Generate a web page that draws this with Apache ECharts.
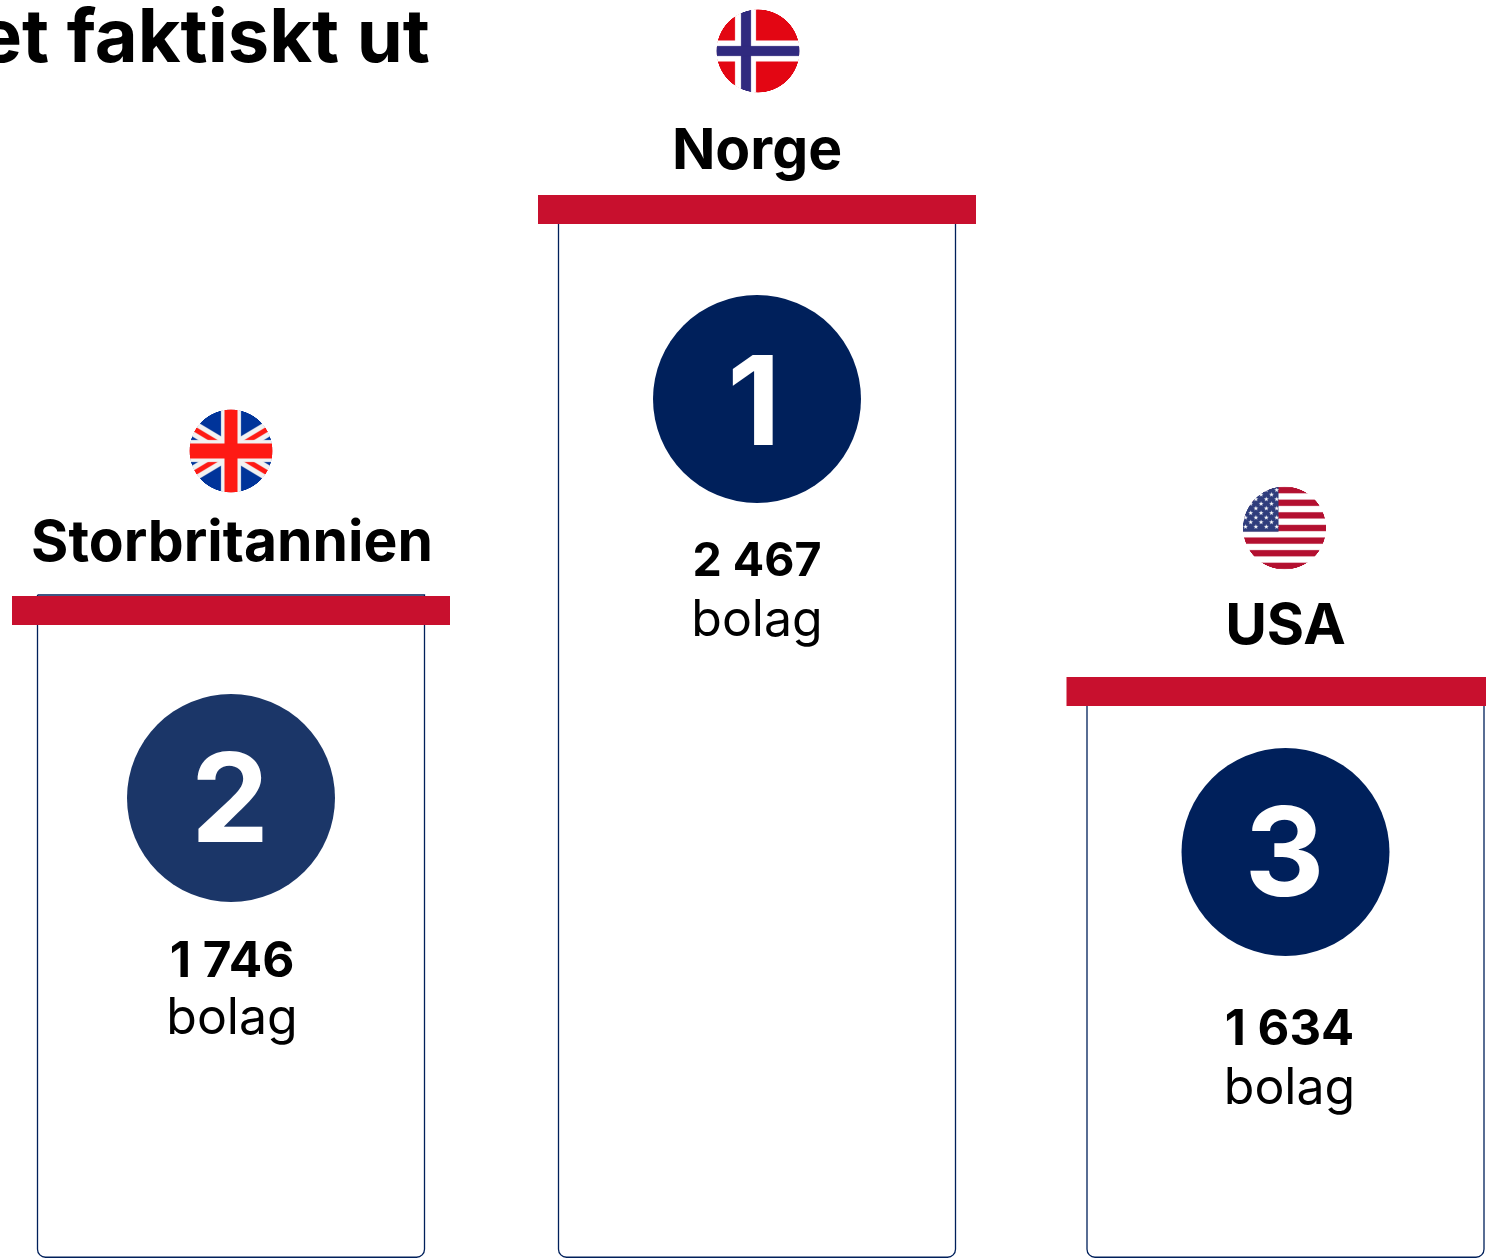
<!DOCTYPE html>
<html><head><meta charset="utf-8">
<style>html,body{margin:0;padding:0;background:#fff;overflow:hidden}#c{width:1486px;height:1258px}</style>
<script src="https://cdn.jsdelivr.net/npm/echarts@6/dist/echarts.min.js"></script>
</head><body><div id="c"></div>
<script>
// ---- data ----
const countries = ['Storbritannien', 'Norge', 'USA'];
const ranks = ['2', '1', '3'];
const companyCounts = ['1 746', '2 467', '1 634'];
const unitLabel = 'bolag';
const podiumHeights = [662, 1063, 581];
const titleText = 'et faktiskt ut';

// ---- layout and style (pixels relative to the top of each podium) ----
const FONT = 'Inter, "Noto Sans", sans-serif';
const NAVY = '#00205b', RED = '#c8102e';
const layout = [
  {bodyW: 388, capW: 438, dx: 0, inset: -1, flag: -145, flagDx: 0, name: -52, nameDx: 1, circle: 202, rankY: 7, rankDx: -1, num: 366, numSize: 49.5, unit: 423, numDx: 1, color: '#1b3668'},
  {bodyW: 398, capW: 438, dx: -1.5, inset: 1, flag: -144, flagDx: 1, name: -43, nameDx: 0, circle: 204, rankY: 9, rankDx: -3, num: 367, numSize: 46.5, unit: 425.5, numDx: 0, color: NAVY},
  {bodyW: 398, capW: 438, dx: -0.5, inset: 1, flag: -149, flagDx: -1, name: -50, nameDx: 0, circle: 175, rankY: 7, rankDx: -1, num: 353, numSize: 49, unit: 412, numDx: 4, color: NAVY}
];

// ---- flags, painted on small offscreen canvases ----
function flagCanvas(paint) {
  const S = 4, R = 42, c = document.createElement('canvas');
  c.width = c.height = 2 * R * S;
  const g = c.getContext('2d');
  g.scale(S, S);
  g.translate(R, R);
  g.beginPath(); g.arc(0, 0, R - 0.5, 0, Math.PI * 2); g.clip();
  g.fillStyle = '#fff'; g.fillRect(-R, -R, 2 * R, 2 * R);
  g.filter = 'blur(1.5px)';
  paint(g, R);
  return c;
}
const flags = [
  flagCanvas((g, R) => { // UK (a 2:1 flag cropped to the disc, so the diagonals run shallow)
    g.fillStyle = '#00349a'; g.fillRect(-R - 4, -R - 4, 2 * R + 8, 2 * R + 8);
    [[-1, -1], [1, -1]].forEach(([a, b]) => {
      g.strokeStyle = '#f2f2f2'; g.lineWidth = 15;
      g.beginPath(); g.moveTo(a * 80, b * 48); g.lineTo(-a * 80, -b * 48); g.stroke();
      g.strokeStyle = '#fe1a14'; g.lineWidth = 5;
      g.beginPath(); g.moveTo(a * 80, b * 48); g.lineTo(-a * 80, -b * 48); g.stroke();
    });
    g.fillStyle = '#f2f2f2'; g.fillRect(-10, -R - 4, 20, 2 * R + 8); g.fillRect(-R - 4, -11, 2 * R + 8, 22);
    g.fillStyle = '#fe1a14'; g.fillRect(-6.5, -R - 4, 13, 2 * R + 8); g.fillRect(-R - 4, -7.5, 2 * R + 8, 15);
  }),
  flagCanvas((g, R) => { // Norway
    g.fillStyle = '#e30613'; g.fillRect(-R - 4, -R - 4, 2 * R + 8, 2 * R + 8);
    g.fillStyle = '#fff'; g.fillRect(-23, -R - 4, 21, 2 * R + 8); g.fillRect(-R - 4, -10.5, 2 * R + 8, 21);
    g.fillStyle = '#302a7f'; g.fillRect(-17, -R - 4, 10, 2 * R + 8); g.fillRect(-R - 4, -5, 2 * R + 8, 10);
  }),
  flagCanvas((g, R) => { // USA
    const h = 82 / 13;
    g.fillStyle = '#b31030';
    for (let i = 0; i < 13; i += 2) g.fillRect(-R - 4, -41 + i * h, 2 * R + 8, h);
    g.fillStyle = '#2f3d7c'; g.fillRect(-R - 4, -R - 4, R - 2, R + 7.7);
    g.fillStyle = '#fff';
    for (let r = 0; r < 9; r++) for (let k = 0; k < 7; k++) {
      const x = -41 + (r % 2 ? 5.2 : 0) + k * 10.4 + 2, y = -38 + r * 4.6;
      if (x > -7) continue;
      g.beginPath();
      for (let p = 0; p < 10; p++) {
        const ra = p % 2 ? 1 : 2.6, an = -Math.PI / 2 + p * Math.PI / 5;
        g.lineTo(x + ra * Math.cos(an), y + ra * Math.sin(an));
      }
      g.fill();
    }
  })
];

function renderItem(params, api) {
  const i = params.dataIndex, L = layout[i];
  const cx = api.coord([i, 0])[0] + L.dx;
  const bottom = api.coord([i, 0])[1];
  const top = api.coord([i, api.value(1)])[1];
  const at = off => top + off;
  const text = (str, x, y, size, weight, fill) => ({
    type: 'text',
    style: {text: str, x, y, align: 'center', verticalAlign: 'middle', textAlign: 'center', textVerticalAlign: 'middle',
      fontFamily: FONT, fontSize: size, fontWeight: weight, fill}
  });
  const fc = cx + L.flagDx, fy = at(L.flag);
  return {type: 'group', children: [
    {type: 'rect', shape: {x: cx - L.bodyW / 2 + 0.5, y: top + L.inset, width: L.bodyW - 1, height: bottom - top - L.inset - 0.75, r: [0, 0, 8, 8]},
      style: {fill: '#fff', stroke: NAVY, lineWidth: 1.3}},
    {type: 'rect', shape: {x: cx - L.capW / 2, y: top, width: L.capW, height: 29}, style: {fill: RED}},
    {type: 'circle', shape: {cx, cy: at(L.circle), r: 104}, style: {fill: L.color}},
    text(ranks[i], cx + L.rankDx, at(L.circle) + L.rankY, 124, 700, '#fff'),
    text(companyCounts[i], cx + L.numDx, at(L.num), L.numSize, 700, '#000'),
    text(unitLabel, cx + L.numDx, at(L.unit), 50, 400, '#000'),
    text(countries[i], cx + L.nameDx, at(L.name), 57, 700, '#000'),
    {type: 'image', style: {image: flags[i], x: fc - 42, y: fy - 42, width: 84, height: 84}}
  ]};
}

const chart = echarts.init(document.getElementById('c'), null, {width: 1486, height: 1258});
chart.setOption({
  animation: false,
  backgroundColor: '#fff',
  title: {text: titleText, left: -27, top: -2, textStyle: {fontFamily: FONT, fontSize: 74, fontWeight: 700, color: '#000'}},
  grid: {left: -32.75, width: 1582.5, top: 0, bottom: 0, containLabel: false, outerBoundsMode: 'none'},
  xAxis: {type: 'category', data: countries, show: false},
  yAxis: {type: 'value', min: 0, max: 1258, show: false},
  series: [{
    type: 'custom',
    clip: false,
    renderItem,
    encode: {x: 0, y: 1},
    data: podiumHeights.map((h, i) => [i, h])
  }]
});
</script></body></html>
